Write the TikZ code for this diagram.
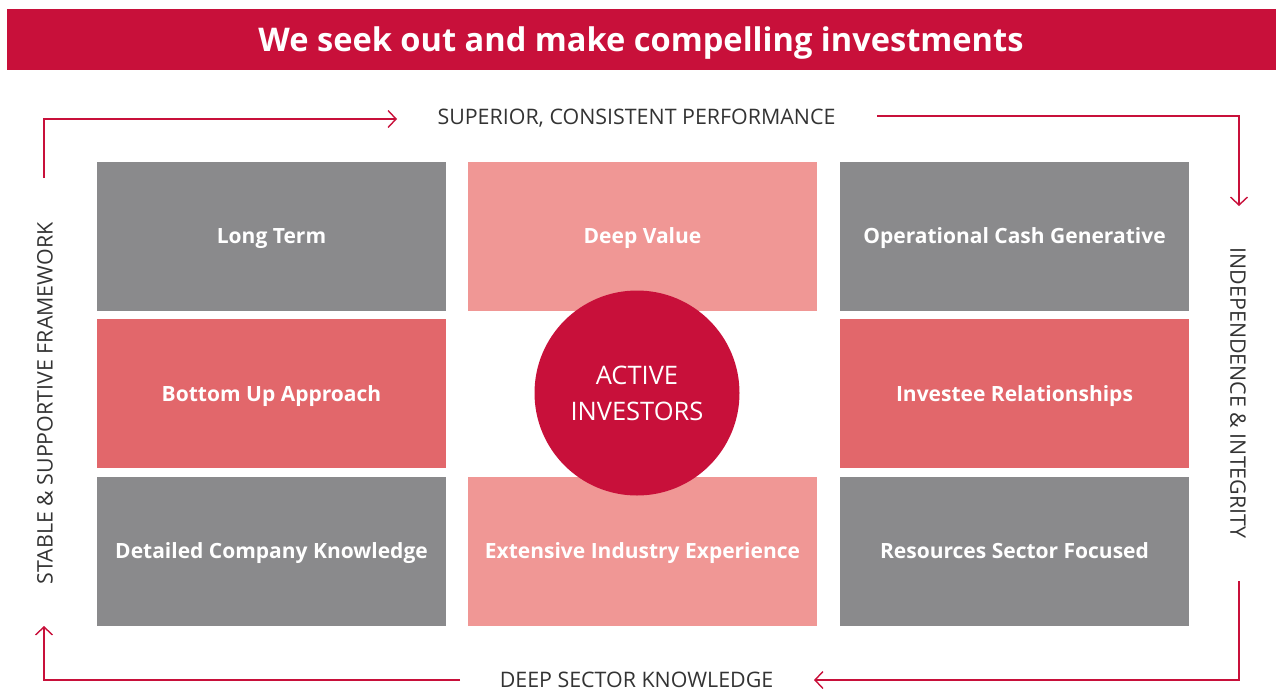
\documentclass[tikz,border=0pt]{standalone}
\usepackage{fontspec}
\setmainfont{Open Sans}
\usetikzlibrary{arrows.meta}
\definecolor{crimson}{HTML}{C8103A}
\definecolor{greybox}{HTML}{8A8A8C}
\definecolor{pinkbox}{HTML}{F09795}
\definecolor{redbox}{HTML}{E2676B}
\definecolor{labeltext}{HTML}{333333}
\begin{document}
\begin{tikzpicture}[x=1pt,y=-1pt,
  cell/.style={minimum width=349pt,minimum height=149pt,inner sep=0pt,text=white,
    text height=15pt,text depth=0pt,font=\fontsize{21}{24}\selectfont\bfseries},
  grey/.style={cell,fill=greybox},
  pink/.style={cell,fill=pinkbox},
  red/.style={cell,fill=redbox},
  side/.style={text=labeltext,font=\fontsize{21.4}{24}\selectfont,inner sep=0pt,text height=15.3pt,text depth=0pt},
  flow/.style={draw=crimson,line width=1.4pt,-{Straight Barb[length=8pt,width=17pt,line width=1.4pt]}}
]
\useasboundingbox (0,0) rectangle (1276,691);
\fill[crimson] (7,9) rectangle (1276,70);
\node[text=white,font=\fontsize{32.6}{36}\selectfont\bfseries,inner sep=0pt,text height=23.3pt,text depth=0pt] (title) at (641,40) {We seek out and make compelling investments};

\node[grey] (lt) at (271.5,236) {Long Term};
\node[pink] (dv) at (642.5,236) {Deep Value};
\node[grey] (oc) at (1014.5,236) {Operational Cash Generative};
\node[red] (bu) at (271.5,393.5) {Bottom Up Approach};
\node[red] (ir) at (1014.5,393.5) {Investee Relationships};
\node[grey] (dc) at (271.5,551) {Detailed Company Knowledge};
\node[pink] (ei) at (642.5,551) {Extensive Industry Experience};
\node[grey] (rs) at (1014.5,551) {Resources Sector Focused};

\node[circle,fill=crimson,minimum size=205pt,inner sep=0pt,text=white,align=center,
  font=\fontsize{25.5}{36}\selectfont] (ai) at (637,393) {ACTIVE\\INVESTORS};

\node[side] (top) at (636.5,117) {SUPERIOR, CONSISTENT PERFORMANCE};
\node[side] (bot) at (636.5,680) {DEEP SECTOR KNOWLEDGE};
\node[side,rotate=90] (left) at (45,403.5) {STABLE \& SUPPORTIVE FRAMEWORK};
\node[side,rotate=-90] (right) at (1238,393) {INDEPENDENCE \& INTEGRITY};

\coordinate (a1) at (44,178);
\coordinate (a2) at (397,119);
\coordinate (b1) at (877,116);
\coordinate (b2) at (1239,206);
\coordinate (c1) at (1239,581);
\coordinate (c2) at (814,680);
\coordinate (d1) at (460,680);
\coordinate (d2) at (44,626);

\draw[flow] (a1) |- (a2);
\draw[flow] (b1) -| (b2);
\draw[flow] (c1) |- (c2);
\draw[flow] (d1) -| (d2);
\end{tikzpicture}
\end{document}
